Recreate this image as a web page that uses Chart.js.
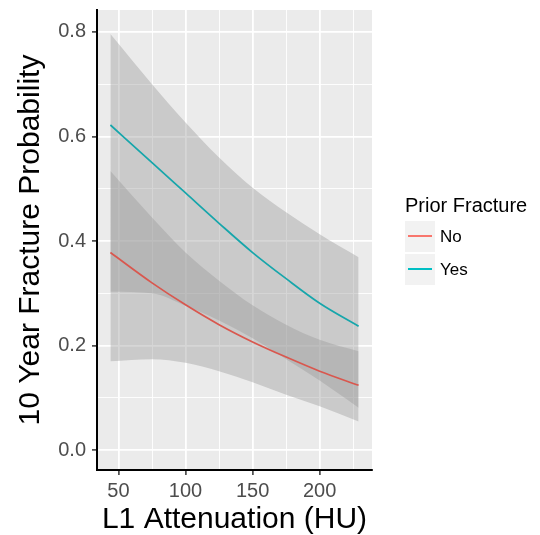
<!DOCTYPE html>
<html>
<head>
<meta charset="utf-8">
<script src="https://cdn.jsdelivr.net/npm/chart.js@4.4.1/dist/chart.umd.min.js"></script>
<style>
  html, body { margin: 0; padding: 0; background: #fff; }
  #wrap { position: relative; width: 540px; height: 535px; }
  #legend { position: absolute; left: 405px; top: 193px; font-family: 'Liberation Sans', Arial, sans-serif; color: #000; }
  #legend .ttl { font-size: 20px; line-height: 24px; margin-bottom: 3px; white-space: nowrap; }
  #legend .row { display: flex; align-items: center; height: 33px; }
  #legend .key { width: 30px; height: 31px; background: #F2F2F2; position: relative; margin-right: 5px; }
  #legend .key i { position: absolute; left: 3px; right: 3px; top: 14px; height: 2px; }
  #legend .lbl { font-size: 17px; }
</style>
</head>
<body>
<div id="wrap">
  <canvas id="chart"></canvas>
  <div id="legend"></div>
</div>
<script>
// x positions of the sampled curve points (HU)
const xVals = [44, 75, 100, 125, 150, 175, 200, 229];

// fitted probability + confidence band, no prior fracture
const noFit   = [0.378, 0.320, 0.278, 0.240, 0.207, 0.178, 0.151, 0.124];
const noUpper = [0.534, 0.445, 0.378, 0.324, 0.277, 0.240, 0.211, 0.189];
const noLower = [0.170, 0.174, 0.167, 0.151, 0.130, 0.106, 0.084, 0.055];

// fitted probability + confidence band, prior fracture
const yesFit   = [0.622, 0.550, 0.492, 0.434, 0.378, 0.328, 0.281, 0.237];
const yesUpper = [0.796, 0.700, 0.627, 0.560, 0.502, 0.455, 0.413, 0.369];
const yesLower = [0.303, 0.300, 0.276, 0.248, 0.214, 0.174, 0.133, 0.081];

const seriesNames = ['No', 'Yes'];
const lineColors = ['#D9574E', '#16A6AB'];
const legendColors = ['#F8766D', '#00BFC4'];

// axis ticks (major get labels, minor only a thin grid line)
const xMajor = [50, 100, 150, 200];
const xMinor = [75, 125, 175, 225];
const yMajor = [0, 0.2, 0.4, 0.6, 0.8];
const yMinor = [0.1, 0.3, 0.5, 0.7];

Chart.defaults.font.family = "'Liberation Sans', Arial, sans-serif";

const pts = arr => arr.map((v, i) => ({ x: xVals[i], y: v }));
const band = 'rgba(153,153,153,0.4)';

function lineSet(label, data, color) {
  return {
    label, data: pts(data), borderColor: color, borderWidth: 1.7,
    pointRadius: 0, fill: false, cubicInterpolationMode: 'monotone'
  };
}
function edgeSet(data, fill) {
  return {
    data: pts(data), borderColor: 'rgba(0,0,0,0)', borderWidth: 1,
    backgroundColor: band, pointRadius: 0, fill, cubicInterpolationMode: 'monotone'
  };
}

// grey panel behind the plot
const panelBg = {
  id: 'panelBg',
  beforeDraw(chart) {
    const { ctx, chartArea: a } = chart;
    ctx.save();
    ctx.fillStyle = '#EBEBEB';
    ctx.fillRect(a.left, a.top, a.right - a.left, a.bottom - a.top);
    ctx.restore();
  }
};

function axisOpts(major, minor, min, max, fmt, titleText) {
  return {
    type: 'linear', min, max,
    afterBuildTicks: s => {
      s.ticks = [...major, ...minor].sort((a, b) => a - b).map(v => ({ value: v }));
    },
    border: { display: true, color: '#000', width: 2 },
    grid: {
      color: '#FFFFFF',
      lineWidth: c => major.includes(c.tick.value) ? 1.8 : 0.9,
      tickColor: c => major.includes(c.tick.value) ? '#333333' : 'rgba(0,0,0,0)',
      tickLength: 5,
      tickWidth: 1.5
    },
    ticks: {
      color: '#4D4D4D', font: { size: 20 }, autoSkip: false, maxRotation: 0,
      callback: v => major.includes(v) ? fmt(v) : ''
    },
    title: { display: true, text: titleText, color: '#000', font: { size: 30, lineHeight: 1 } }
  };
}

const xAxis = axisOpts(xMajor, xMinor, 34, 239, v => String(v), 'L1 Attenuation (HU)');
xAxis.afterFit = s => { s.height = 65; s.paddingLeft = 0; s.paddingRight = 0; };
xAxis.ticks.padding = 4;
xAxis.title.padding = 0;

const yAxis = axisOpts(yMajor, yMinor, -0.038, 0.842, v => v.toFixed(1), '10 Year Fracture Probability');
yAxis.afterFit = s => { s.width = 97; s.paddingTop = 0; s.paddingBottom = 0; };
yAxis.ticks.padding = 6;
yAxis.title.padding = { top: 16, bottom: 0 };

new Chart(document.getElementById('chart'), {
  type: 'line',
  data: {
    datasets: [
      lineSet(seriesNames[1], yesFit, lineColors[1]),
      lineSet(seriesNames[0], noFit, lineColors[0]),
      edgeSet(yesUpper, { target: 3 }),
      edgeSet(yesLower, false),
      edgeSet(noUpper, { target: 5 }),
      edgeSet(noLower, false)
    ]
  },
  options: {
    responsive: true,
    maintainAspectRatio: false,
    animation: false,
    layout: { padding: { top: 10, right: 168, left: 0, bottom: 0 } },
    plugins: { legend: { display: false }, tooltip: { enabled: false } },
    scales: { x: xAxis, y: yAxis }
  },
  plugins: [panelBg]
});

// legend (HTML)
const leg = document.getElementById('legend');
let html = '<div class="ttl">Prior Fracture</div>';
seriesNames.forEach((n, i) => {
  html += '<div class="row"><span class="key"><i style="background:' + legendColors[i] +
          '"></i></span><span class="lbl">' + n + '</span></div>';
});
leg.innerHTML = html;
</script>
</body>
</html>
